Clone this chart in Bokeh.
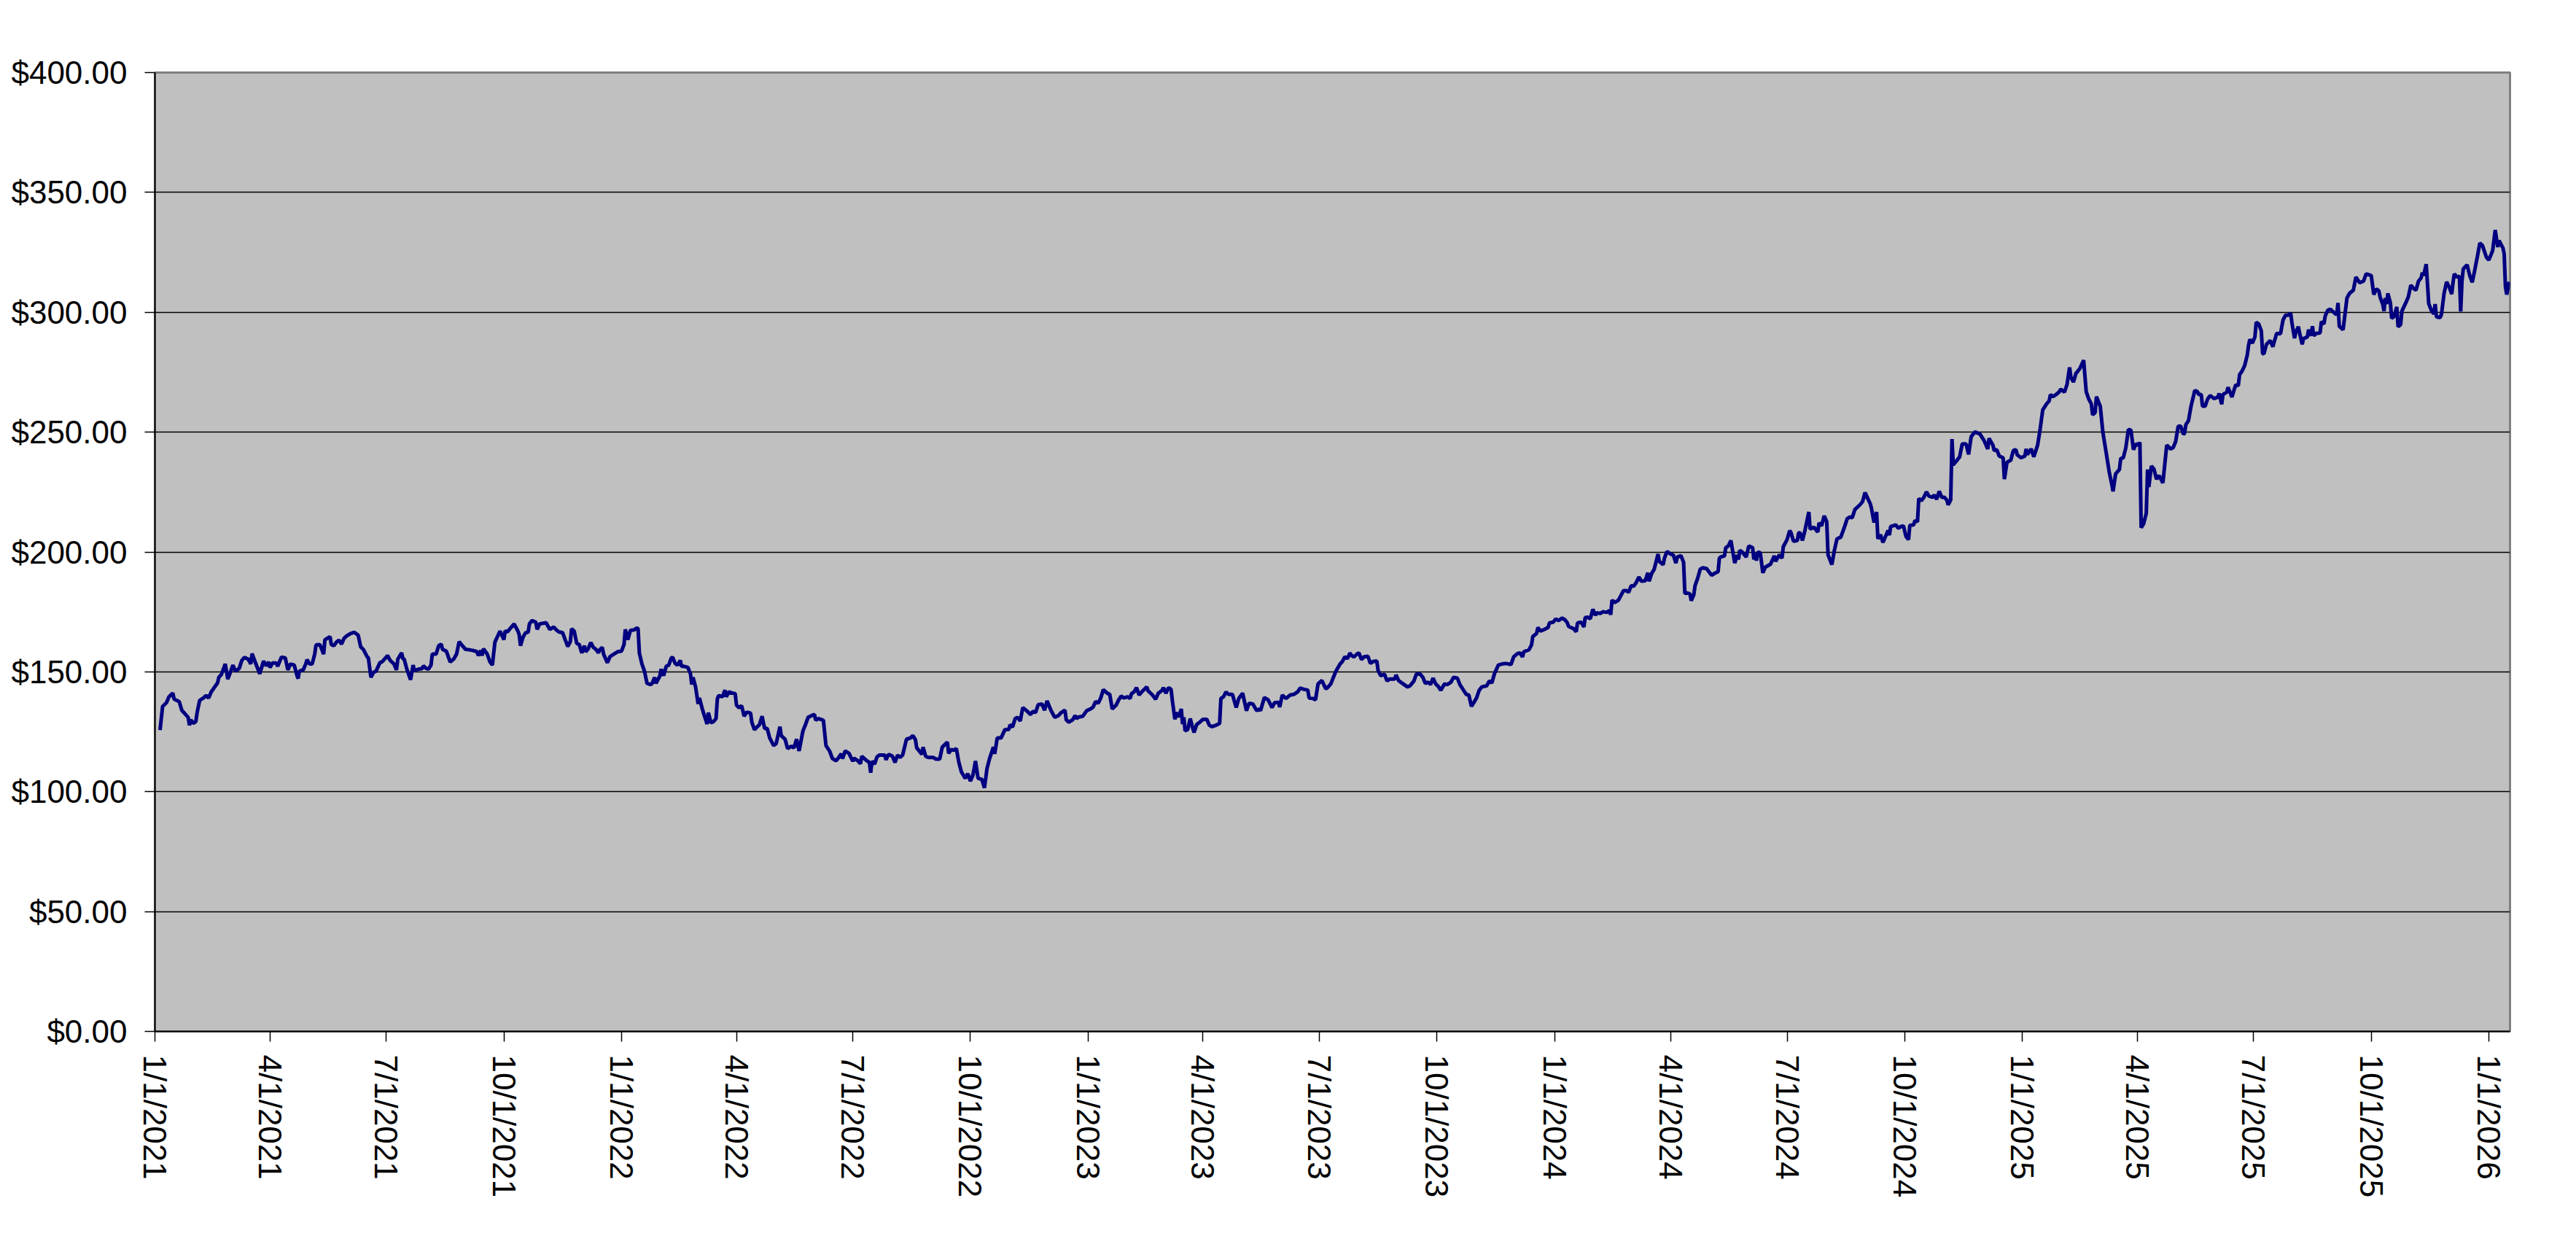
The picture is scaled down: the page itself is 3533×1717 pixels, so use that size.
import pandas as pd
from bokeh.plotting import figure
from bokeh.models import Range1d, FixedTicker, NumeralTickFormatter
from bokeh.embed import file_html
from bokeh.resources import INLINE

# ---------------- data (day offset from START, closing price in $) ----------------
START = "2021-01-01"
RANGE_END = "2026-01-17 14:00"

prices_jan21_oct21 = [
    (4, 125.7), (6, 135.6), (9, 137.1), (11, 139.6), (14, 141.1), (15, 138.6), (19, 137.6), (21, 134.0),
    (24, 132.2), (26, 131.0), (27, 127.7), (28, 130.0), (30, 128.5), (32, 129.3), (33, 133.0), (35, 138.1),
    (38, 139.1), (40, 140.1), (42, 139.1), (44, 141.6), (47, 143.9), (49, 145.4), (50, 147.7), (52, 148.9),
    (55, 153.3), (57, 147.0), (59, 149.8), (61, 152.8), (63, 150.3), (66, 151.5), (68, 154.8), (70, 156.0),
    (73, 155.3), (75, 153.3), (76, 157.6), (79, 153.3), (82, 149.2), (85, 154.5), (87, 152.5), (89, 154.1),
    (90, 151.8), (92, 153.7), (95, 153.7), (96, 152.3), (99, 156.1), (102, 155.8), (104, 150.8), (106, 153.3),
    (109, 152.8), (111, 148.7), (112, 147.2), (113, 150.3), (116, 150.8), (118, 153.3), (119, 155.1), (121, 153.3),
    (123, 153.3), (125, 157.4), (126, 161.2), (129, 161.4), (132, 157.4), (133, 163.4), (137, 164.7), (138, 161.4),
    (140, 160.9), (142, 162.4), (144, 163.2), (146, 161.6), (148, 164.0), (150, 165.0), (153, 166.0), (156, 166.5),
    (159, 165.3), (161, 160.4), (163, 159.4), (166, 156.3), (167, 155.8), (169, 147.7), (171, 149.8), (173, 150.3),
    (176, 153.8), (178, 154.3), (182, 156.8), (184, 154.8), (187, 153.3), (189, 150.8), (190, 155.3), (193, 157.9),
    (194, 155.5), (195, 155.3), (197, 151.3), (200, 146.7), (202, 152.8), (203, 150.5), (206, 151.1), (209, 151.3),
    (210, 152.5), (212, 151.5), (214, 151.1), (216, 152.8), (217, 157.4), (220, 157.4), (222, 160.9), (224, 161.6),
    (225, 159.4), (228, 158.6), (231, 154.1), (234, 155.5), (236, 157.4), (238, 162.6), (241, 160.6), (243, 159.4),
    (246, 159.2), (249, 158.9), (252, 158.4), (253, 156.8), (255, 158.9), (256, 156.8), (257, 159.6), (260, 157.4),
    (262, 154.3), (264, 152.8), (266, 162.4), (268, 164.7), (270, 167.0), (273, 163.4), (274, 167.0), (276, 166.7),
    (277, 167.5), (281, 170.0), (284, 167.0), (285, 165.5), (286, 160.9), (288, 164.5), (290, 166.3), (292, 166.5),
    (293, 170.0), (295, 171.4), (298, 170.7), (299, 167.7),
]

prices_oct21_aug22 = [
    (301, 170.0), (306, 170.5), (309, 167.7), (312, 168.7), (314, 167.5), (316, 166.7), (319, 166.3), (321, 163.4),
    (323, 160.6), (325, 162.6), (326, 168.0), (328, 167.0), (330, 161.9), (332, 161.4), (334, 157.9), (336, 160.9),
    (337, 158.4), (339, 159.6), (341, 162.2), (343, 160.2), (345, 159.4), (347, 157.9), (348, 159.2), (350, 160.2),
    (351, 157.4), (354, 153.8), (356, 156.3), (359, 157.4), (362, 158.4), (365, 158.6), (367, 161.4), (368, 167.7),
    (370, 163.4), (372, 167.3), (375, 167.5), (377, 168.3), (378, 168.0), (379, 157.9), (381, 153.3), (383, 150.3),
    (385, 145.2), (388, 144.7), (389, 145.2), (391, 147.7), (392, 145.2), (395, 148.2), (396, 151.1), (398, 148.4),
    (400, 152.3), (402, 152.8), (404, 155.8), (405, 156.1), (407, 153.5), (409, 152.8), (411, 154.8), (412, 152.3),
    (414, 152.3), (417, 151.8), (419, 149.2), (420, 144.7), (421, 147.7), (423, 143.7), (425, 136.6), (426, 139.1),
    (428, 135.0), (430, 131.5), (432, 128.2), (433, 133.0), (435, 128.8), (437, 129.2), (439, 130.5), (440, 138.6),
    (441, 140.1), (444, 139.6), (446, 142.4), (447, 139.6), (449, 141.6), (452, 141.1), (454, 140.9), (455, 136.1),
    (457, 135.0), (459, 135.9), (461, 131.5), (463, 133.2), (466, 132.8), (467, 129.0), (469, 125.9), (473, 128.0),
    (475, 131.5), (477, 126.4), (479, 126.4), (481, 122.4), (482, 121.4), (484, 119.3), (486, 120.0), (489, 127.1),
    (490, 123.4), (493, 121.9), (495, 118.0), (498, 119.0), (500, 118.3), (502, 121.9), (504, 117.0), (507, 125.4),
    (509, 128.0), (511, 131.0), (514, 131.8), (516, 132.2), (517, 129.8), (519, 130.5), (523, 129.8), (525, 119.3),
    (528, 116.8), (530, 113.9), (533, 112.9), (535, 114.3), (537, 115.8), (538, 113.8), (540, 117.0), (543, 116.0),
    (546, 112.7), (547, 114.0), (550, 112.9), (552, 111.7), (553, 114.8), (557, 112.9), (559, 112.2), (560, 107.9),
    (561, 112.7), (563, 111.5), (565, 114.6), (567, 115.3), (571, 115.3), (572, 113.3), (574, 115.6), (577, 114.8),
    (579, 112.2), (581, 115.3), (583, 114.3), (585, 115.3), (588, 121.9), (591, 122.4), (593, 123.4), (595, 121.7),
    (596, 118.3), (598, 117.0), (600, 115.6), (601, 118.6), (603, 114.8), (605, 114.3),
]

prices_sep22_jul23 = [
    (609, 114.3), (611, 113.6), (614, 113.6), (616, 118.6), (620, 120.7), (621, 116.0), (623, 117.6), (625, 117.3),
    (627, 118.0), (629, 112.2), (631, 108.2), (634, 105.6), (636, 107.5), (638, 104.4), (640, 106.9), (642, 112.8),
    (644, 105.6), (647, 105.1), (649, 101.6), (651, 109.7), (653, 113.8), (656, 118.6), (657, 115.8), (659, 122.4),
    (662, 122.4), (665, 125.9), (668, 125.9), (669, 127.9), (671, 127.0), (673, 130.5), (675, 131.0), (677, 129.5),
    (679, 135.1), (682, 133.8), (685, 132.2), (687, 133.5), (689, 133.0), (691, 136.3), (694, 136.6), (696, 134.0),
    (698, 137.9), (701, 134.0), (704, 131.0), (707, 131.8), (709, 133.0), (712, 134.0), (713, 130.0), (715, 129.0),
    (718, 130.0), (720, 131.8), (721, 130.5), (723, 131.2), (726, 131.5), (729, 133.8), (732, 134.5), (734, 135.3),
    (736, 137.6), (738, 136.9), (740, 139.1), (742, 142.6), (745, 141.1), (747, 140.6), (749, 134.5), (752, 136.1),
    (754, 138.3), (756, 139.9), (758, 139.1), (761, 139.6), (763, 138.9), (764, 140.9), (766, 141.6), (768, 143.4),
    (770, 140.3), (772, 141.6), (776, 143.7), (777, 142.1), (780, 140.6), (783, 138.6), (785, 141.1), (788, 142.3),
    (789, 143.4), (791, 141.1), (793, 143.4), (795, 142.7), (796, 138.1), (798, 130.2), (799, 133.0), (801, 131.2),
    (803, 134.5), (804, 128.2), (805, 131.0), (806, 125.4), (808, 125.9), (810, 130.5), (812, 126.4), (813, 124.7),
    (815, 128.0), (817, 128.8), (820, 130.2), (823, 130.2), (825, 127.7), (827, 127.1), (830, 127.7), (833, 128.5),
    (834, 138.9), (836, 139.6), (838, 141.6), (840, 140.6), (843, 140.6), (846, 135.1), (848, 138.9), (851, 141.1),
    (854, 133.8), (856, 136.9), (859, 136.6), (862, 133.8), (864, 134.5), (865, 133.8), (868, 139.3), (871, 138.3),
    (874, 135.1), (876, 137.1), (879, 137.3), (880, 135.3), (882, 140.3), (885, 138.9), (888, 140.3), (891, 140.6),
    (894, 141.6), (896, 143.2), (899, 142.7), (902, 142.4), (903, 139.1), (906, 138.9), (908, 138.3), (910, 145.0),
    (913, 146.4), (916, 143.0),
]

prices_jul23_may24 = [
    (917, 143.2), (920, 145.0), (922, 147.7), (924, 150.3), (927, 153.1), (929, 154.3), (931, 156.3), (933, 155.5),
    (935, 157.9), (936, 156.9), (938, 156.2), (940, 157.2), (942, 157.9), (944, 155.1), (946, 156.3), (949, 156.5),
    (951, 153.5), (953, 154.3), (956, 154.5), (957, 150.5), (959, 148.4), (962, 149.0), (964, 146.2), (966, 147.0),
    (970, 147.0), (971, 148.7), (973, 146.4), (976, 145.2), (980, 143.7), (982, 144.2), (985, 146.2), (987, 149.2),
    (990, 149.0), (992, 147.7), (994, 145.2), (996, 145.7), (998, 144.7), (1000, 147.4), (1002, 145.0), (1004, 144.0),
    (1006, 142.3), (1009, 145.0), (1011, 144.7), (1014, 145.7), (1016, 147.7), (1019, 147.4), (1021, 144.7),
    (1024, 142.2), (1026, 140.6), (1028, 140.3), (1030, 135.6), (1032, 137.3), (1034, 139.1), (1036, 142.2),
    (1038, 143.7), (1042, 144.2), (1044, 146.2), (1046, 145.4), (1048, 149.2), (1051, 152.8), (1054, 153.3),
    (1057, 153.5), (1061, 153.1), (1063, 156.2), (1066, 157.6), (1068, 157.9), (1070, 156.2), (1071, 158.4),
    (1075, 159.2), (1077, 161.2), (1078, 164.7), (1081, 166.0), (1082, 168.5), (1084, 167.0), (1087, 167.7),
    (1090, 168.5), (1091, 170.4), (1094, 170.7), (1096, 172.1), (1098, 171.4), (1101, 172.4), (1103, 171.8),
    (1105, 170.5), (1106, 169.0), (1110, 168.0), (1112, 166.7), (1113, 170.4), (1116, 170.7), (1118, 168.7),
    (1119, 172.6), (1121, 172.8), (1123, 172.1), (1125, 176.1), (1127, 173.6), (1128, 174.6), (1131, 174.4),
    (1133, 175.1), (1136, 174.8), (1138, 175.6), (1139, 173.8), (1140, 179.9), (1142, 178.9), (1145, 179.9),
    (1149, 183.9), (1151, 183.9), (1153, 183.2), (1155, 185.9), (1157, 185.8), (1159, 187.3), (1161, 189.6),
    (1163, 187.8), (1166, 188.0), (1168, 191.3), (1169, 187.8), (1171, 191.0), (1173, 192.8), (1176, 199.1),
    (1177, 196.1), (1180, 194.7), (1181, 197.4), (1183, 200.2), (1186, 199.1), (1188, 198.7), (1190, 195.4),
    (1191, 197.9), (1194, 198.4), (1196, 195.7), (1197, 182.7), (1199, 182.9), (1201, 182.5), (1202, 179.7),
    (1204, 182.2), (1205, 186.0), (1207, 189.0), (1209, 192.8), (1211, 193.4), (1214, 193.1), (1216, 191.6),
    (1218, 190.3), (1220, 191.0), (1223, 191.8), (1224, 197.4),
]

prices_may24_mar25 = [
    (1225, 197.9), (1228, 198.4), (1229, 201.8), (1231, 202.5), (1233, 204.8), (1236, 195.4), (1238, 198.7),
    (1239, 196.9), (1240, 200.7), (1242, 199.9), (1245, 197.9), (1247, 202.5), (1250, 201.8), (1251, 196.9),
    (1252, 199.4), (1253, 196.4), (1254, 199.9), (1256, 199.7), (1258, 191.3), (1260, 193.7), (1264, 194.9),
    (1267, 198.4), (1268, 196.1), (1271, 198.9), (1273, 197.4), (1274, 202.2), (1277, 205.2), (1279, 208.9),
    (1280, 208.1), (1282, 204.5), (1285, 204.8), (1286, 207.9), (1287, 208.1), (1289, 204.8), (1291, 209.1),
    (1294, 216.7), (1295, 209.6), (1298, 210.3), (1301, 208.3), (1302, 212.1), (1304, 210.9), (1306, 215.1),
    (1308, 212.6), (1309, 198.9), (1312, 194.7), (1314, 200.7), (1316, 205.5), (1319, 206.2), (1322, 210.6),
    (1324, 213.9), (1326, 214.6), (1328, 214.3), (1330, 217.7), (1332, 218.7), (1334, 219.7), (1336, 221.0),
    (1338, 224.8), (1340, 222.4), (1342, 220.2), (1343, 218.2), (1345, 212.3), (1346, 214.6), (1347, 216.7),
    (1348, 205.5), (1350, 207.2), (1352, 204.0), (1354, 206.5), (1356, 209.0), (1357, 207.0), (1358, 210.6),
    (1362, 211.3), (1364, 209.9), (1366, 210.6), (1368, 210.9), (1370, 206.5), (1372, 205.2), (1373, 211.1),
    (1376, 211.3), (1377, 213.1), (1379, 212.6), (1380, 222.3), (1382, 221.4), (1384, 222.8), (1386, 225.1),
    (1388, 223.3), (1391, 222.8), (1392, 223.8), (1394, 222.0), (1396, 225.3), (1398, 222.8), (1400, 222.8),
    (1402, 221.7), (1403, 219.7), (1405, 221.7), (1406, 247.1), (1407, 236.4), (1410, 238.3), (1412, 239.7),
    (1414, 245.1), (1417, 245.1), (1419, 240.7), (1421, 248.1), (1424, 250.1), (1428, 249.1), (1431, 246.6),
    (1434, 243.0), (1435, 247.4), (1438, 244.6), (1439, 242.3), (1441, 242.7), (1443, 240.0), (1446, 239.3),
    (1447, 230.4), (1449, 237.4), (1452, 238.3), (1454, 242.3), (1456, 242.7), (1457, 240.5), (1460, 239.3),
    (1463, 240.0), (1464, 243.0), (1465, 240.7), (1468, 243.0), (1470, 239.7), (1473, 244.6), (1475, 251.4),
    (1477, 259.3), (1480, 261.8), (1482, 263.0), (1483, 265.6), (1485, 264.8), (1488, 265.9), (1490, 266.9),
    (1491, 267.9), (1494, 266.7), (1496, 269.9), (1498, 277.0), (1499, 272.9), (1501, 270.9), (1503, 274.5),
    (1506, 276.5), (1509, 280.0), (1511, 266.9), (1513, 263.8), (1515, 261.8), (1516, 257.2), (1518, 258.2),
    (1519, 264.8), (1522, 260.8), (1524, 250.1), (1526, 243.5), (1529, 233.4), (1531, 228.3), (1532, 225.3),
]

prices_mar25_jan26 = [
    (1534, 232.6), (1537, 234.4), (1538, 239.0), (1540, 239.3), (1542, 243.5), (1544, 251.1), (1546, 250.8),
    (1548, 242.7), (1550, 245.1), (1552, 244.6), (1553, 245.8), (1554, 210.1), (1556, 211.9), (1558, 216.2),
    (1559, 234.4), (1560, 227.1), (1562, 235.9), (1564, 234.6), (1566, 230.4), (1568, 231.9), (1571, 228.8),
    (1574, 244.6), (1577, 243.0), (1579, 243.5), (1581, 246.1), (1583, 252.5), (1585, 252.5), (1587, 249.1),
    (1588, 249.6), (1589, 253.2), (1591, 254.7), (1593, 260.8), (1596, 267.4), (1598, 266.9), (1599, 265.7),
    (1601, 265.7), (1602, 260.8), (1604, 260.8), (1606, 263.8), (1608, 265.3), (1611, 264.0), (1614, 264.6),
    (1615, 266.1), (1617, 261.6), (1618, 265.7), (1621, 266.7), (1622, 268.7), (1625, 264.6), (1627, 268.1),
    (1628, 269.7), (1630, 269.4), (1631, 274.0), (1633, 275.5), (1635, 277.8), (1637, 282.1), (1638, 286.1),
    (1639, 288.7), (1641, 287.1), (1643, 289.7), (1644, 295.8), (1646, 295.1), (1648, 292.2), (1649, 282.9),
    (1650, 282.6), (1652, 286.6), (1655, 288.2), (1657, 285.6), (1660, 291.2), (1663, 291.0), (1665, 296.8),
    (1667, 298.8), (1669, 298.8), (1671, 299.5), (1672, 295.5), (1674, 289.2), (1675, 291.7), (1677, 294.0),
    (1678, 291.2), (1680, 286.6), (1681, 289.0), (1684, 289.7), (1685, 292.7), (1687, 290.2), (1688, 294.2),
    (1689, 290.2), (1691, 291.2), (1694, 291.4), (1695, 296.1), (1697, 295.1), (1698, 298.5), (1700, 300.8),
    (1702, 301.3), (1706, 299.3), (1707, 299.1), (1708, 303.9), (1709, 294.2), (1712, 292.7), (1713, 297.1),
    (1715, 305.9), (1717, 307.9), (1720, 309.2), (1722, 314.7), (1725, 312.3), (1728, 313.0), (1730, 316.0),
    (1734, 315.3), (1736, 307.4), (1738, 309.7), (1740, 308.9), (1741, 306.2), (1743, 303.4), (1744, 300.5),
    (1745, 305.9), (1746, 303.4), (1747, 307.9), (1749, 303.9), (1750, 297.5), (1752, 298.3), (1754, 302.2),
    (1755, 294.0), (1757, 294.8), (1758, 300.5), (1761, 303.9), (1763, 306.4), (1765, 311.3), (1767, 310.0),
    (1769, 309.2), (1771, 313.0), (1773, 314.3), (1774, 316.5), (1775, 315.3), (1777, 320.1), (1779, 303.6),
    (1781, 300.8), (1783, 299.3), (1784, 303.4), (1785, 298.1), (1788, 297.8), (1789, 299.3), (1791, 307.9),
    (1793, 312.7), (1795, 310.5), (1797, 307.6), (1798, 312.5), (1799, 316.0), (1801, 314.7), (1803, 315.0),
    (1804, 300.3), (1805, 313.0), (1806, 318.1), (1809, 319.8), (1811, 315.5), (1813, 312.5), (1815, 317.6),
    (1817, 323.1), (1819, 328.9), (1821, 327.9), (1824, 323.1), (1826, 321.8), (1829, 325.7), (1831, 334.3),
    (1833, 327.2), (1834, 329.9), (1837, 326.9), (1838, 324.5), (1839, 310.7), (1840, 307.4), (1842, 312.7),
]

x_tick_labels = [
    "1/1/2021", "4/1/2021", "7/1/2021", "10/1/2021",
    "1/1/2022", "4/1/2022", "7/1/2022", "10/1/2022",
    "1/1/2023", "4/1/2023", "7/1/2023", "10/1/2023",
    "1/1/2024", "4/1/2024", "7/1/2024", "10/1/2024",
    "1/1/2025", "4/1/2025", "7/1/2025", "10/1/2025",
    "1/1/2026",
]
y_ticks = [0, 50, 100, 150, 200, 250, 300, 350, 400]

# ---------------- build ----------------
pairs = (prices_jan21_oct21 + prices_oct21_aug22 + prices_sep22_jul23 +
         prices_jul23_may24 + prices_may24_mar25 + prices_mar25_jan26)
days = [d for d, _ in pairs]
prices = [v for _, v in pairs]
dates = pd.Timestamp(START) + pd.to_timedelta(days, unit="D")

tick_ms = [int(pd.to_datetime(t, format="%m/%d/%Y").value // 10**6) for t in x_tick_labels]

FONT = "Liberation Sans"

p = figure(
    width=3515, height=1700,
    x_axis_type="datetime",
    x_range=Range1d(pd.Timestamp(START), pd.Timestamp(RANGE_END)),
    y_range=Range1d(0, 400),
    output_backend="svg", toolbar_location=None,
    min_border_left=212, min_border_right=73, min_border_top=99, min_border_bottom=286,
)

p.background_fill_color = "#C0C0C0"
p.border_fill_color = "white"
p.outline_line_color = "#808080"
p.outline_line_width = 3

p.line(dates, prices, line_color="#000080", line_width=5)

# axes
p.xaxis.ticker = FixedTicker(ticks=tick_ms)
p.xaxis.major_label_overrides = dict(zip(tick_ms, x_tick_labels))
p.xaxis.major_label_orientation = "vertical"
p.xaxis.major_label_standoff = 18

p.yaxis.ticker = FixedTicker(ticks=y_ticks)
p.yaxis.formatter = NumeralTickFormatter(format="$0.00")
p.yaxis.major_label_standoff = 24

for ax in (p.xaxis[0], p.yaxis[0]):
    ax.axis_line_color = "black"
    ax.axis_line_width = 2
    ax.major_tick_out = 14
    ax.major_tick_in = 0
    ax.minor_tick_out = 0
    ax.minor_tick_in = 0
    ax.major_tick_line_color = "black"
    ax.major_tick_line_width = 1.5
    ax.major_label_text_font = FONT
    ax.major_label_text_font_size = "44px"
    ax.major_label_text_color = "black"
    ax.major_label_text_font_style = "normal"

p.xgrid.visible = False
p.ygrid.ticker = FixedTicker(ticks=y_ticks)
p.ygrid.grid_line_color = "black"
p.ygrid.grid_line_width = 1.3

open("out.html", "w").write(file_html(p, INLINE))
